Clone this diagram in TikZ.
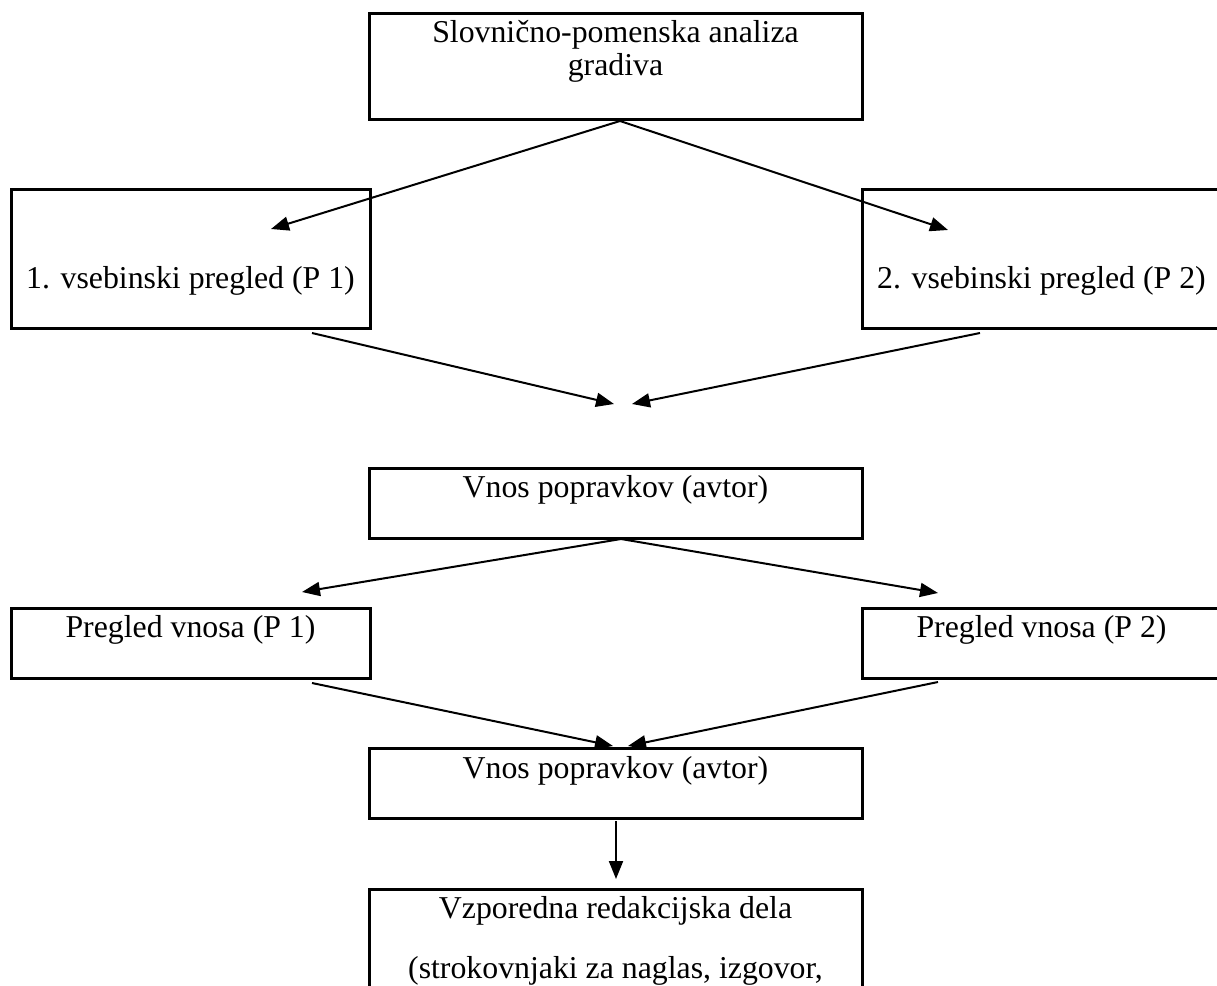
\documentclass[tikz,border=0pt]{standalone}
\usepackage{fontspec}
\setmainfont{Liberation Serif}
\usetikzlibrary{arrows.meta}
\begin{document}
\begin{tikzpicture}[x=1pt,y=-1pt,
  box/.style={draw,line width=3pt,rectangle,inner sep=0pt},
  txt/.style={anchor=base,inner sep=0pt,font=\fontsize{31.8}{33}\selectfont},
  arr/.style={line width=2pt,-{Triangle[length=18pt,width=14pt]}}]
\useasboundingbox (0,0) rectangle (1217,985);
\clip (0,0) rectangle (1217,985);
% boxes
\node[box,minimum width=493pt,minimum height=106pt] (top) at (615.5,66) {};
\node[box,minimum width=359pt,minimum height=139pt] (p1) at (190.5,258.5) {};
\node[box,minimum width=359pt,minimum height=139pt] (p2) at (1041.5,258.5) {};
\node[box,minimum width=493pt,minimum height=70pt] (v1) at (615.5,503) {};
\node[box,minimum width=359pt,minimum height=70pt] (pv1) at (190.5,643) {};
\node[box,minimum width=359pt,minimum height=70pt] (pv2) at (1041.5,643) {};
\node[box,minimum width=493pt,minimum height=70pt] (v2) at (615.5,783) {};
\node[box,minimum width=493pt,minimum height=220pt] (bot) at (615.5,999) {};
% texts
\node[txt] (ttop1) at (615.5,42) {Slovnično-pomenska analiza};
\node[txt] (ttop2) at (615.5,75) {gradiva};
\node[txt] (tp1) at (190.5,288) {1. vsebinski pregled (P 1)};
\node[txt] (tp2) at (1041.5,288) {2. vsebinski pregled (P 2)};
\node[txt] (tv1) at (615.5,497) {Vnos popravkov (avtor)};
\node[txt] (tpv1) at (190.5,637) {Pregled vnosa (P 1)};
\node[txt] (tpv2) at (1041.5,637) {Pregled vnosa (P 2)};
\node[txt] (tv2) at (615.5,778) {Vnos popravkov (avtor)};
\node[txt] (tb1) at (615.5,918) {Vzporedna redakcijska dela};
\node[txt] (tb2) at (615.5,978) {(strokovnjaki za naglas, izgovor,};
% connector coordinates
\coordinate (s1) at (620,121);
\coordinate (e1) at (271,229);
\coordinate (e2) at (948,230);
\coordinate (s3) at (312,333);
\coordinate (e3) at (614,404);
\coordinate (s4) at (980,333);
\coordinate (e4) at (632,404);
\coordinate (s5) at (621,539);
\coordinate (e5) at (302,592);
\coordinate (e6) at (938,593);
\coordinate (s7) at (312,683);
\coordinate (e7) at (613,746);
\coordinate (s8) at (938,682);
\coordinate (e8) at (628,746);
\coordinate (s9) at (616,821);
\coordinate (e9) at (616,879);
\draw[arr] (s1) -- (e1);
\draw[arr] (s1) -- (e2);
\draw[arr] (s3) -- (e3);
\draw[arr] (s4) -- (e4);
\draw[arr] (s5) -- (e5);
\draw[arr] (s5) -- (e6);
\draw[arr] (s7) -- (e7);
\draw[arr] (s8) -- (e8);
\draw[arr] (s9) -- (e9);
\end{tikzpicture}
\end{document}
